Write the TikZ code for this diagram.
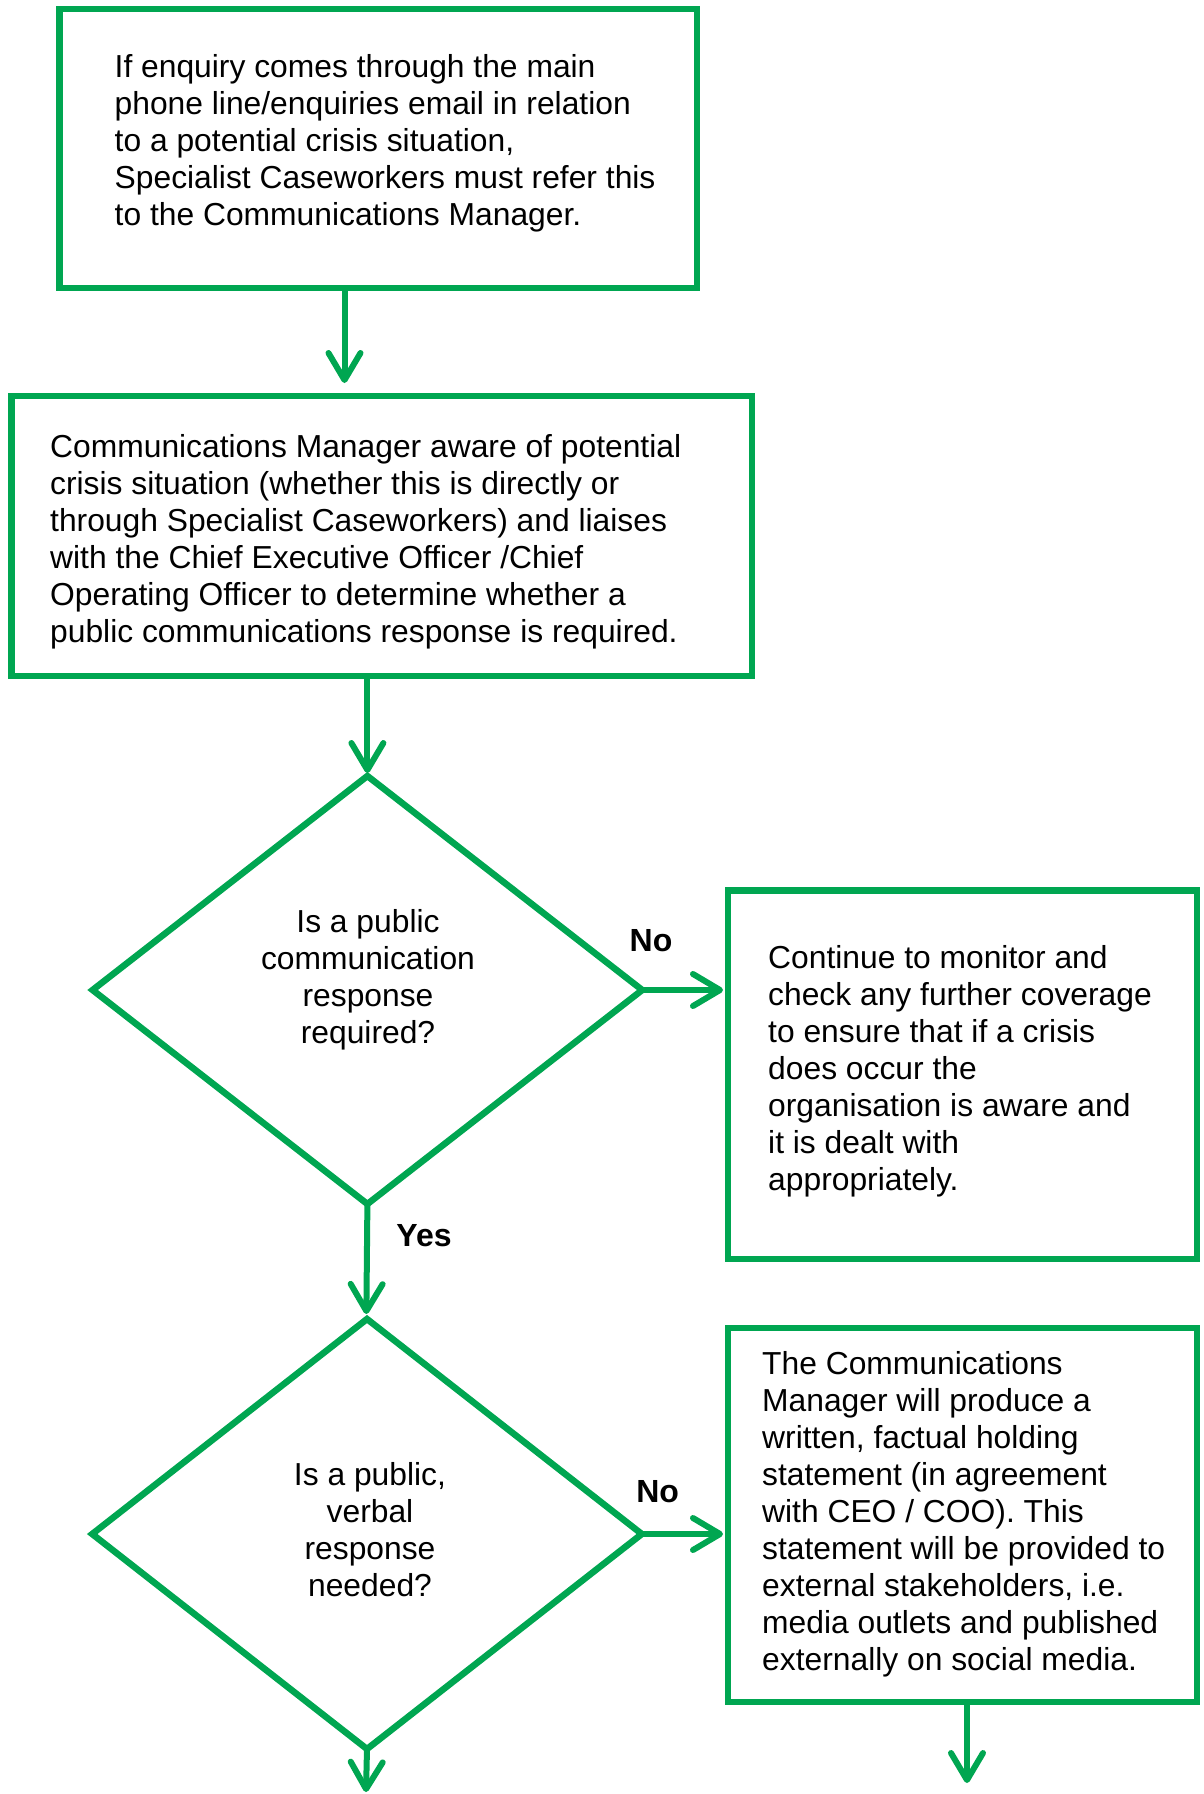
\documentclass[tikz,border=0pt]{standalone}
\usepackage{fontspec}
\setmainfont{Liberation Sans}
\usetikzlibrary{shapes.geometric,arrows.meta}
\definecolor{flowgreen}{RGB}{0,166,81}
\begin{document}
\begin{tikzpicture}[x=1pt,y=-1pt,
  box/.style={draw=flowgreen, line width=6.5pt, rectangle, inner sep=0pt, outer sep=0pt},
  dia/.style={draw=flowgreen, line width=6.5pt, diamond, inner sep=0pt, outer sep=0pt},
  txt/.style={font=\fontsize{31.8}{37}\selectfont, align=left, inner sep=0pt, anchor=west},
  ctxt/.style={font=\fontsize{31.8}{37}\selectfont, align=center, inner sep=0pt},
  lbl/.style={font=\fontsize{32}{37}\selectfont\bfseries, inner sep=0pt},
  arr/.style={draw=flowgreen, line width=6pt, line cap=round, -{Straight Barb[length=27pt,width=32pt,round]}}]
\useasboundingbox (0,0) rectangle (1203,1794);

% boxes and decisions
\node[box, minimum width=637.5pt, minimum height=279pt] (b1) at (378.25,148.5) {};
\node[box, minimum width=740.6pt, minimum height=280pt] (b2) at (381.7,536) {};
\node[dia, minimum width=549.6pt, minimum height=428pt] (d1) at (367.4,990) {};
\node[box, minimum width=469pt, minimum height=368.5pt] (b3) at (962.5,1074.75) {};
\node[dia, minimum width=549.6pt, minimum height=430pt] (d2) at (367,1534) {};
\node[box, minimum width=469pt, minimum height=374pt] (b4) at (962.5,1515) {};

% texts
\node[txt] (t1) at (114.5,143.5) {If enquiry comes through the main\\phone line/enquiries email in relation\\to a potential crisis situation,\\Specialist Caseworkers must refer this\\to the Communications Manager.};
\node[txt] (t2) at (50,542) {Communications Manager aware of potential\\crisis situation (whether this is directly or\\through Specialist Caseworkers) and liaises\\with the Chief Executive Officer /Chief\\Operating Officer to determine whether a\\public communications response is required.};
\node[ctxt] (t3) at (368,980) {Is a public\\communication\\response\\required?};
\node[txt] (t4) at (768,1071) {Continue to monitor and\\check any further coverage\\to ensure that if a crisis\\does occur the\\organisation is aware and\\it is dealt with\\appropriately.};
\node[ctxt] (t5) at (370,1529.5) {Is a public,\\verbal\\response\\needed?};
\node[txt] (t6) at (762,1514) {The Communications\\Manager will produce a\\written, factual holding\\statement (in agreement\\with CEO / COO). This\\statement will be provided to\\external stakeholders, i.e.\\media outlets and published\\externally on social media.};

% labels
\node[lbl] (no1) at (651,941) {No};
\node[lbl] (yes1) at (424,1236) {Yes};
\node[lbl] (no2) at (657.6,1492) {No};

% free ends
\coordinate (e1) at (366,1792);
\coordinate (e2) at (967,1783);

% connectors
\draw[arr, shorten >=13pt] ([xshift=-33.75pt]b1.south) -- ([xshift=-37.2pt]b2.north);
\draw[arr, shorten >=3pt] ([xshift=-14.3pt]b2.south) -- (d1.north);
\draw[arr, shorten >=5pt] (d1.east) -- (d1.east -| b3.west);
\draw[arr, shorten >=5pt] (d1.south) -- ([xshift=-0.7pt]d2.north);
\draw[arr, shorten >=5pt] (d2.east) -- (d2.east -| b4.west);
\draw[arr] (d2.south) -- (e1);
\draw[arr] ([xshift=4.5pt]b4.south) -- (e2);
\end{tikzpicture}
\end{document}
